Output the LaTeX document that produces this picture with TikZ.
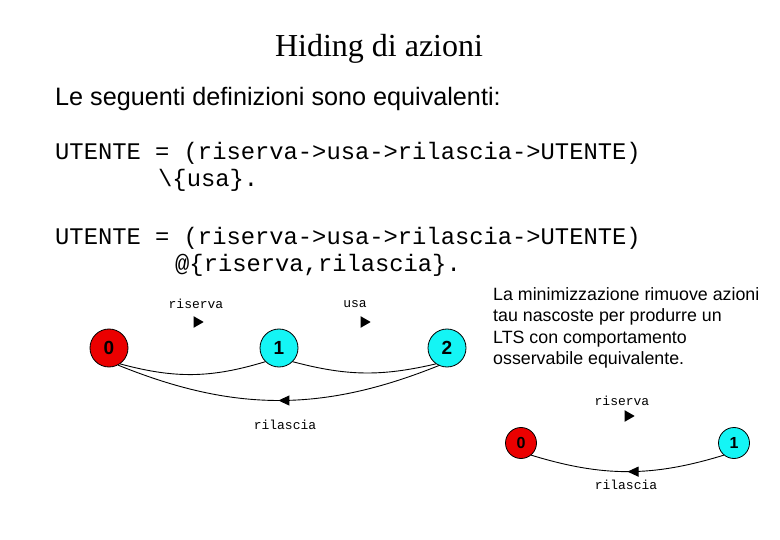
\documentclass[tikz,border=0pt]{standalone}
\usepackage{fontspec}
\setmainfont{Liberation Serif}
\setsansfont{Liberation Sans}
\setmonofont{Liberation Mono}
\usetikzlibrary{arrows.meta,shapes.geometric,decorations.markings}
\definecolor{ltsred}{RGB}{235,0,0}
\definecolor{ltscyan}{RGB}{20,245,245}
\tikzset{
  state/.style={circle,draw=black,line width=0.8pt,minimum size=38pt,inner sep=0pt,font=\sffamily\bfseries\fontsize{19}{19}\selectfont},
  smallstate/.style={state,minimum size=31pt,font=\sffamily\bfseries\fontsize{16}{16}\selectfont},
  actlabel/.style={font=\ttfamily\fontsize{13}{13}\selectfont,inner sep=0pt},
  arrowmark/.style={isosceles triangle,isosceles triangle apex angle=60,fill=black,inner sep=0pt,minimum height=10pt,minimum width=10pt},
  ltsedge/.style={line width=0.9pt},
  midarrow/.style={ltsedge,postaction={decorate},decoration={markings,mark=at position 0.5 with {\arrow{Triangle[length=11pt,width=10pt]}}}},
  codeline/.style={anchor=base west,inner sep=0pt,font=\ttfamily\fontsize{23.8}{23.8}\selectfont}
}
\begin{document}
\begin{tikzpicture}[x=1pt,y=-1pt]
    \useasboundingbox (0,0) rectangle (780,540);% page size
    \node[anchor=base,inner sep=0pt,font=\fontsize{32}{32}\selectfont] (title) at (379,57) {Hiding di azioni};% title
    \node[anchor=base west,inner sep=0pt,font=\sffamily\fontsize{25.2}{25.2}\selectfont] (intro) at (55,106) {Le seguenti definizioni sono equivalenti:};
    % the two definitions
    \node[codeline] (defa) at (55,160) {UTENTE = (riserva->usa->rilascia->UTENTE)};
    \node[codeline] (defb) at (158,187) {\textbackslash\{usa\}.};
    \node[codeline] (defc) at (55,245) {UTENTE = (riserva->usa->rilascia->UTENTE)};
    \node[codeline] (defd) at (175,272) {@\{riserva,rilascia\}.};
    % LTS of UTENTE with usa hidden
    \node[state,fill=ltsred] (n0) at (109,348) {0};
    \node[state,fill=ltscyan] (n1) at (279,348) {1};
    \node[state,fill=ltscyan] (n2) at (447,348) {2};
    \draw[ltsedge] (n0.-55) to[bend right=16] (n1.-135);% riserva
    \draw[ltsedge] (n1.-45) to[bend right=14] (n2.-125);% usa
    \draw[midarrow] (n2.-115) to[bend left=22] (n0.-62);% rilascia
    \node[actlabel] (lres) at (196,304) {riserva};
    \node[arrowmark] (tres) at (197,322) {};
    \node[actlabel] (lusa) at (355,304) {usa};
    \node[arrowmark] (tusa) at (364,322) {};
    \node[actlabel] (lril) at (285,425) {rilascia};
    % comment on the right
    \node[anchor=north west,inner sep=0pt,align=left,font=\sffamily\fontsize{17.8}{21.5}\selectfont] (note) at (493,287)
      {La minimizzazione rimuove azioni\\tau nascoste per  produrre un\\LTS con comportamento\\osservabile equivalente.};
    % minimised LTS
    \node[smallstate,fill=ltsred] (m0) at (521,443) {0};
    \node[smallstate,fill=ltscyan] (m1) at (734,443) {1};
    \draw[midarrow] (m1.-130) to[bend left=17] (m0.-50);% rilascia
    \node[actlabel] (mres) at (622,401) {riserva};
    \node[arrowmark] (mtres) at (628,416) {};
    \node[actlabel] (mril) at (626,485) {rilascia};
\end{tikzpicture}
\end{document}
